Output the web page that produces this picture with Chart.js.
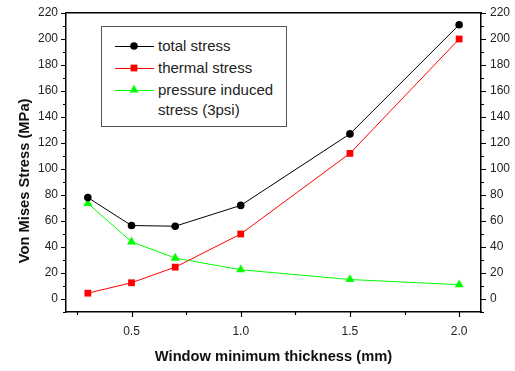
<!DOCTYPE html>
<html>
<head>
<meta charset="utf-8">
<script src="https://cdn.jsdelivr.net/npm/chart.js@4"></script>
<style>
  html, body { margin: 0; padding: 0; background: #fff; }
  #wrap { position: relative; width: 515px; height: 371px; }
  #legend {
    position: absolute; left: 101px; top: 26px; width: 186px; height: 101px;
    box-sizing: border-box; border: 1px solid #555; background: #fff;
    font-family: Arial, "Liberation Sans", sans-serif; font-size: 15px; color: #222;
  }
  .row { position: absolute; left: 0; height: 20px; display: flex; align-items: center; }
  .row svg { margin-left: 13px; margin-right: 4px; flex: none; }
  .row span { line-height: 20px; white-space: nowrap; }
  .row2 { position: absolute; left: 56px; line-height: 20px; }
</style>
</head>
<body>
<div id="wrap">
  <canvas id="chart" width="515" height="371"></canvas>
  <div id="legend"></div>
</div>
<script>
// thickness (mm) and stresses (MPa)
const thickness = [0.3, 0.5, 0.7, 1.0, 1.5, 2.0];
const totalStress = [78, 56.5, 56, 72, 127, 211];
const thermalStress = [4.5, 12.5, 24.5, 50, 112, 200];
const pressureStress = [73.5, 44, 31.5, 22.5, 15, 11];

const seriesNames = ['total stress', 'thermal stress', 'pressure induced stress (3psi)'];
const xMajorTicks = [0.5, 1.0, 1.5, 2.0];
const xMinorTicks = [0.25, 0.75, 1.25, 1.75];
const yMajorTicks = [0, 20, 40, 60, 80, 100, 120, 140, 160, 180, 200, 220];

const font = 'Arial, "Liberation Sans", sans-serif';

function pts(ys) {
    return thickness.map((t, i) => ({x: t, y: ys[i]}));
}

const datasets = [
    {label: seriesNames[0], data: pts(totalStress), borderColor: '#000', backgroundColor: '#000',
     pointStyle: 'circle', pointRadius: 3.8},
    {label: seriesNames[1], data: pts(thermalStress), borderColor: '#ff0000', backgroundColor: '#ff0000',
     pointStyle: 'rect', pointRadius: 4.8},
    {label: seriesNames[2], data: pts(pressureStress), borderColor: '#00ff00', backgroundColor: '#00ff00',
     pointStyle: 'triangle', pointRadius: 5.2},
];
datasets.forEach(d => {
    d.borderWidth = 1;
    d.pointBorderWidth = 0;
    d.tension = 0;
    d.fill = false;
});

// outward tick marks with short minor ticks
const tickMarks = {
    id: 'tickMarks',
    afterDraw(chart) {
        const ctx = chart.ctx;
        const x = chart.scales.x, y = chart.scales.y, y2 = chart.scales.y2;
        ctx.save();
        ctx.strokeStyle = '#000';
        ctx.lineWidth = 1.2;
        ctx.beginPath();
        for (let v = -10; v <= 220; v += 10) {
            const len = v % 20 === 0 ? 5 : 3;
            const py = Math.round(y.getPixelForValue(v)) + 0.5;
            ctx.moveTo(y.right - len, py); ctx.lineTo(y.right, py);
            ctx.moveTo(y2.left, py); ctx.lineTo(y2.left + len, py);
        }
        xMajorTicks.forEach(v => {
            const px = Math.round(x.getPixelForValue(v)) + 0.5;
            ctx.moveTo(px, x.top); ctx.lineTo(px, x.top + 5);
        });
        xMinorTicks.forEach(v => {
            const px = Math.round(x.getPixelForValue(v)) + 0.5;
            ctx.moveTo(px, x.top); ctx.lineTo(px, x.top + 3);
        });
        ctx.stroke();
        ctx.restore();
    }
};

const tickFont = {family: font, size: 12};
const border = {display: true, color: '#000', width: 1.5};

new Chart(document.getElementById('chart'), {
    type: 'line',
    data: {datasets: datasets},
    options: {
        responsive: false,
        animation: false,
        layout: {padding: {top: 13, left: 0, right: 0, bottom: 0}},
        plugins: {legend: {display: false}, tooltip: {enabled: false}},
        scales: {
            x: {
                type: 'linear', position: 'bottom', min: 0.2, max: 2.1,
                grid: {display: false}, border: border,
                afterBuildTicks: s => { s.ticks = xMajorTicks.map(v => ({value: v})); },
                afterFit: s => { s.height = 59; },
                ticks: {font: tickFont, color: '#222', padding: 4, maxRotation: 0,
                        callback: v => Number(v).toFixed(1)},
                title: {display: true, text: 'Window minimum thickness (mm)', color: '#111',
                        font: {family: font, size: 14.7, weight: 'bold'}, padding: {top: 0, bottom: 5.5}}
            },
            xTop: {
                type: 'linear', position: 'top', min: 0.2, max: 2.1,
                grid: {display: false}, border: border,
                ticks: {display: false},
                afterFit: s => { s.height = 0; }
            },
            y: {
                type: 'linear', position: 'left', min: -10, max: 220,
                grid: {display: false}, border: border,
                afterBuildTicks: s => { s.ticks = yMajorTicks.map(v => ({value: v})); },
                afterFit: s => { s.width = 66; },
                ticks: {font: tickFont, color: '#222', padding: 0},
                title: {display: true, text: 'Von Mises Stress (MPa)         ', color: '#111',
                        font: {family: font, size: 14.7, weight: 'bold'}, padding: {top: 16, bottom: 0}}
            },
            y2: {
                type: 'linear', position: 'right', min: -10, max: 220,
                grid: {display: false}, border: border,
                afterBuildTicks: s => { s.ticks = yMajorTicks.map(v => ({value: v})); },
                afterFit: s => { s.width = 34; },
                ticks: {font: tickFont, color: '#222', padding: 1}
            }
        }
    },
    plugins: [tickMarks]
});

// legend box inside the plot, built from the datasets
function markerSvg(d) {
    const c = d.borderColor;
    let m = '';
    if (d.pointStyle === 'circle') m = `<circle cx="19" cy="10" r="3.8" fill="${c}"/>`;
    if (d.pointStyle === 'rect') m = `<rect x="15.6" y="6.6" width="6.8" height="6.8" fill="${c}"/>`;
    if (d.pointStyle === 'triangle') m = `<polygon points="19,4.8 23.5,12.6 14.5,12.6" fill="${c}"/>`;
    return `<svg width="39" height="20"><line x1="0" y1="10.5" x2="39" y2="10.5" stroke="${c}" stroke-width="1"/>${m}</svg>`;
}
const legend = document.getElementById('legend');
const rowTops = [9, 30.5, 53];
datasets.forEach((d, i) => {
    const row = document.createElement('div');
    row.className = 'row';
    row.style.top = rowTops[i] + 'px';
    let text = d.label;
    if (i === 2) text = 'pressure induced';
    row.innerHTML = markerSvg(d) + `<span>${text}</span>`;
    legend.appendChild(row);
});
const extra = document.createElement('div');
extra.className = 'row2';
extra.style.top = '73px';
extra.textContent = 'stress (3psi)';
legend.appendChild(extra);
</script>
</body>
</html>
